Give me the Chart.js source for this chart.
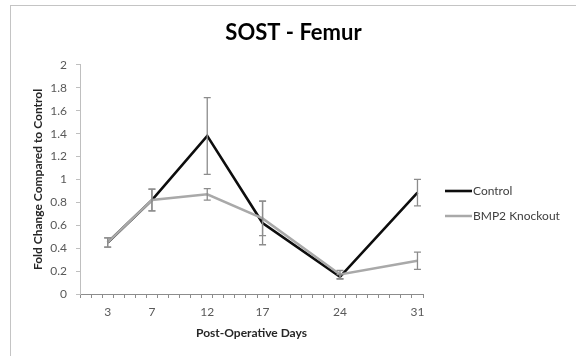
<!DOCTYPE html>
<html><head><meta charset="utf-8">
<script src="https://cdn.jsdelivr.net/npm/chart.js@4.4.1/dist/chart.umd.min.js"></script>
<style>
html,body{margin:0;padding:0;background:#fff;}
#wrap{position:relative;width:576px;height:356px;overflow:hidden;background:#fff;}
#frame{position:absolute;left:10px;top:5px;width:600px;height:400px;border:1.5px solid #c4c4c4;}
canvas{position:absolute;left:0;top:0;}
</style></head><body>
<div id="wrap"><div id="frame"></div><canvas id="c" width="576" height="356"></canvas></div>
<script>
const days = [3, 7, 12, 17, 24, 31];
const controlValues = [0.45, 0.82, 1.38, 0.62, 0.15, 0.885];
const controlErrors = [0.04, 0.095, 0.335, 0.19, 0.02, 0.115];
const knockoutValues = [0.45, 0.82, 0.87, 0.66, 0.17, 0.29];
const knockoutErrors = [0.04, 0.095, 0.05, 0.15, 0.035, 0.075];
const yTickValues = [0, 0.2, 0.4, 0.6, 0.8, 1, 1.2, 1.4, 1.6, 1.8, 2];
const seriesNames = ['Control', 'BMP2 Knockout'];

const FONT = 'Lato';
const dayBoundaries = [];
for (let d = 0.5; d <= 31.5; d += 1) dayBoundaries.push(d);

const errorBarPlugin = {
  id: 'errorBars',
  afterDatasetsDraw(chart) {
    const ctx = chart.ctx;
    const xs = chart.scales.x, ys = chart.scales.y;
    chart.data.datasets.forEach((ds) => {
      const errs = ds.errors || [];
      ds.data.forEach((p, i) => {
        const e = errs[i];
        if (e == null) return;
        const px = xs.getPixelForValue(p.x);
        const top = ys.getPixelForValue(p.y + e);
        const bot = ys.getPixelForValue(p.y - e);
        ctx.save();
        ctx.strokeStyle = '#8c8c8c';
        ctx.lineWidth = 1.3;
        ctx.beginPath();
        ctx.moveTo(px, top); ctx.lineTo(px, bot);
        ctx.moveTo(px - 3.5, top); ctx.lineTo(px + 3.5, top);
        ctx.moveTo(px - 3.5, bot); ctx.lineTo(px + 3.5, bot);
        ctx.stroke();
        ctx.restore();
      });
    });
  }
};

const legendPlugin = {
  id: 'sideLegend',
  afterDraw(chart) {
    const ctx = chart.ctx;
    const x0 = 445, len = 27, y0 = 191, gap = 25;
    chart.data.datasets.forEach((ds, i) => {
      const y = y0 + i * gap;
      ctx.save();
      ctx.strokeStyle = ds.borderColor;
      ctx.lineWidth = ds.borderWidth;
      ctx.beginPath();
      ctx.moveTo(x0, y); ctx.lineTo(x0 + len, y);
      ctx.stroke();
      ctx.fillStyle = '#404040';
      ctx.font = '12px ' + FONT;
      ctx.textBaseline = 'middle';
      ctx.textAlign = 'left';
      ctx.fillText(ds.label, x0 + len + 1, y);
      ctx.restore();
    });
  }
};

new Chart(document.getElementById('c'), {
  type: 'line',
  data: {
    datasets: [
      {
        label: seriesNames[0],
        data: days.map((d, i) => ({x: d, y: controlValues[i]})),
        errors: controlErrors,
        borderColor: '#0d0d0d',
        borderWidth: 2.6,
        pointRadius: 0,
        tension: 0,
        order: 1
      },
      {
        label: seriesNames[1],
        data: days.map((d, i) => ({x: d, y: knockoutValues[i]})),
        errors: knockoutErrors,
        borderColor: '#a9a9a9',
        borderWidth: 2.5,
        pointRadius: 0,
        tension: 0,
        order: 0
      }
    ]
  },
  options: {
    responsive: false,
    animation: false,
    layout: {padding: {left: 11, top: 6, right: 0, bottom: 0}},
    plugins: {
      legend: {display: false},
      tooltip: {enabled: false},
      title: {
        display: true,
        text: 'SOST - Femur',
        color: '#000',
        font: {family: FONT, size: 22, weight: 'bold'},
        padding: {top: 13.5, bottom: 19}
      }
    },
    scales: {
      x: {
        type: 'linear',
        min: 0.5,
        max: 31.5,
        afterBuildTicks(scale) {
          const vals = dayBoundaries.concat(days).sort((a, b) => a - b);
          scale.ticks = vals.map(v => ({value: v}));
        },
        afterFit(scale) { scale.height = 62; },
        ticks: {
          autoSkip: false,
          maxRotation: 0,
          padding: 7,
          color: '#595959',
          font: {family: FONT, size: 12},
          callback: (v) => days.includes(v) ? String(v) : ''
        },
        grid: {
          drawOnChartArea: false,
          drawTicks: true,
          tickLength: 4,
          tickColor: (c) => (c.tick && days.includes(c.tick.value)) ? 'rgba(0,0,0,0)' : '#8c8c8c'
        },
        border: {display: true, color: '#8c8c8c', width: 1},
        title: {
          display: true,
          text: 'Post-Operative Days',
          color: '#262626',
          font: {family: FONT, size: 12, weight: 'bold'},
          padding: {top: 0, bottom: 16}
        }
      },
      y: {
        min: 0,
        max: 2,
        afterBuildTicks(scale) { scale.ticks = yTickValues.map(v => ({value: v})); },
        afterFit(scale) { scale.width = 69; },
        ticks: {
          padding: 9,
          color: '#595959',
          font: {family: FONT, size: 12},
          callback: (v) => String(Number(v.toFixed(1)))
        },
        grid: {
          drawOnChartArea: false,
          drawTicks: true,
          tickLength: 4,
          tickColor: '#bfbfbf'
        },
        border: {display: true, color: '#bfbfbf', width: 1},
        title: {
          display: true,
          text: 'Fold Change Compared to Control',
          color: '#262626',
          font: {family: FONT, size: 12, weight: 'bold'},
          padding: {top: 20, bottom: 0}
        }
      },
      legendSpace: {
        type: 'linear',
        position: 'right',
        display: true,
        grid: {display: false, drawTicks: false},
        ticks: {display: false},
        border: {display: false},
        afterFit(scale) { scale.width = 153; }
      }
    }
  },
  plugins: [errorBarPlugin, legendPlugin]
});
</script>
</body></html>
